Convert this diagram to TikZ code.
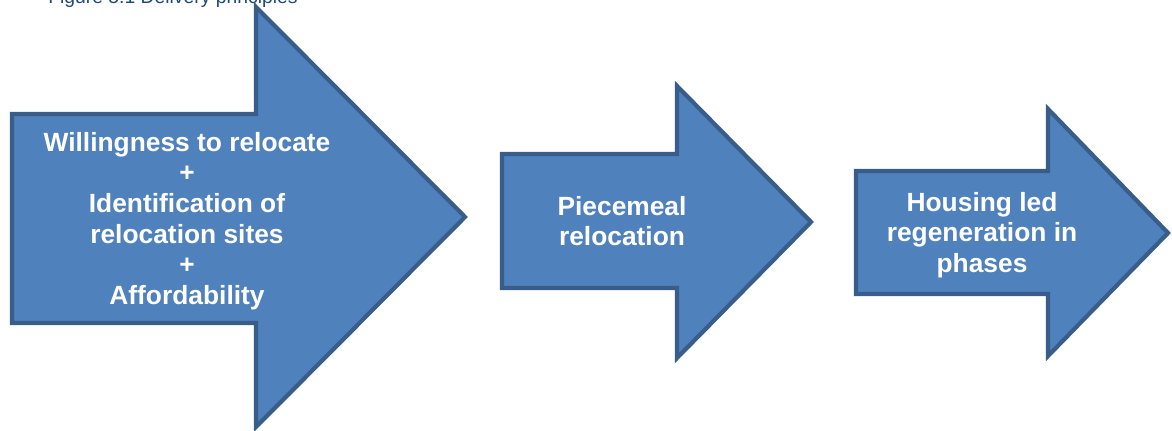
\documentclass[tikz,border=0pt]{standalone}
\usepackage{fontspec}
\setmainfont{Liberation Sans}
\usetikzlibrary{positioning}
\definecolor{arrowfill}{HTML}{4F81BD}
\definecolor{arrowline}{HTML}{385D8A}
\definecolor{captionblue}{HTML}{1F497D}
\tikzstyle{bigarrow} = [draw=arrowline, fill=arrowfill, line width=2.4pt, line join=miter]
\tikzstyle{arrowtext} = [text=white, align=center, inner sep=0pt, font=\fontsize{15}{17.4}\selectfont\bfseries]
\tikzstyle{captext} = [text=captionblue, inner sep=0pt, anchor=base west, font=\fontsize{11}{13}\selectfont]

\begin{document}
\begin{tikzpicture}[x=0.02cm, y=-0.02cm]
\useasboundingbox (0,0) rectangle (1172,431);

\node (cap) [captext] at (48,4) {Figure 5.1 Delivery principles};

% the three block arrows
\draw [bigarrow] (12,114) -- (256,114) -- (256,7) -- (465,217) -- (256,427) -- (256,323) -- (12,323) -- cycle;
\draw [bigarrow] (502,154) -- (677,154) -- (677,86) -- (811,222) -- (677,358) -- (677,288) -- (502,288) -- cycle;
\draw [bigarrow] (856,171) -- (1048,171) -- (1048,109) -- (1168,233) -- (1048,356) -- (1048,294) -- (856,294) -- cycle;

\node (t1) [arrowtext] at (187,221) {Willingness to relocate\\+\\Identification of\\relocation sites\\+\\Affordability};
\node (t2) [arrowtext] at (622,221) {Piecemeal\\relocation};
\node (t3) [arrowtext] at (982,235) {Housing led\\regeneration in\\phases};

\end{tikzpicture}
\end{document}
